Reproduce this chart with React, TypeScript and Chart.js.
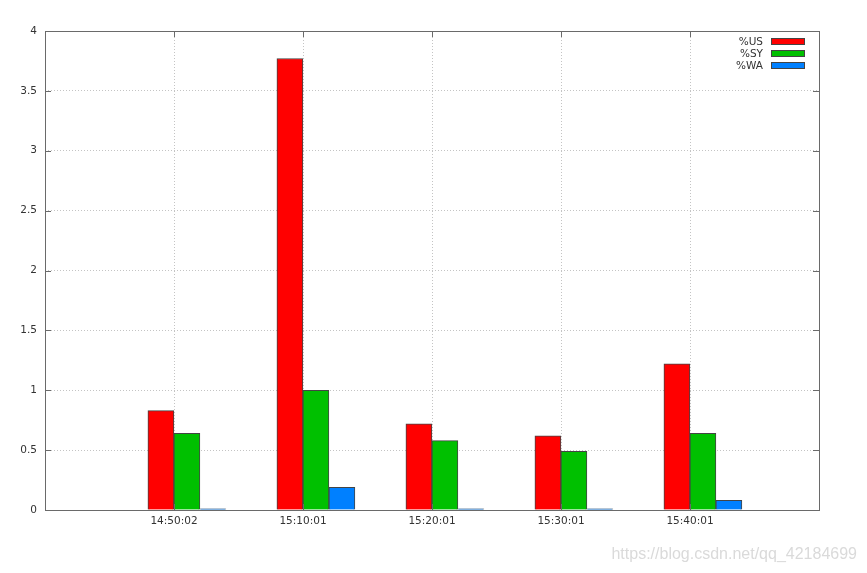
import React, { useEffect, useRef } from 'react';
import { Chart, registerables } from 'chart.js';

Chart.register(...registerables);

const categories = ['14:50:02', '15:10:01', '15:20:01', '15:30:01', '15:40:01'];
const usValues = [0.83, 3.77, 0.72, 0.62, 1.22];
const syValues = [0.64, 1.0, 0.58, 0.49, 0.64];
const waValues = [0.01, 0.19, 0.01, 0.01, 0.08];
const seriesNames = ['%US', '%SY', '%WA'];
const seriesColors = ['#ff0000', '#00c000', '#0080ff'];
const yMin = 0;
const yMax = 4;
const yStep = 0.5;
const watermark = 'https://blog.csdn.net/qq_42184699';

const FONT = '"DejaVu Sans", sans-serif';
const TEXT = '#333333';
const BOX = '#6a6a6a';
const GROUP_OFFSET = 0.1;

const framePlugin = {
  id: 'gnuplotFrame',
  afterDatasetsDraw(chart: any) {
    const { ctx, chartArea } = chart;
    const { left, right, top, bottom } = chartArea;
    const xs = chart.scales.x;
    const ys = chart.scales.y;
    ctx.save();
    ctx.strokeStyle = BOX;
    ctx.lineWidth = 1;
    ctx.setLineDash([]);
    ctx.beginPath();
    for (let v = yMin; v <= yMax + 1e-9; v += yStep) {
      const py = Math.round(ys.getPixelForValue(v)) + 0.5;
      ctx.moveTo(left, py);
      ctx.lineTo(left + 6, py);
      ctx.moveTo(right, py);
      ctx.lineTo(right - 6, py);
    }
    for (let i = 0; i < categories.length; i++) {
      const px = Math.round(xs.getPixelForValue(i)) + 0.5;
      ctx.moveTo(px, top);
      ctx.lineTo(px, top + 6);
      ctx.moveTo(px, bottom);
      ctx.lineTo(px, bottom - 6);
    }
    ctx.stroke();
    ctx.strokeRect(Math.round(left) + 0.5, Math.round(top) + 0.5, Math.round(right - left), Math.round(bottom - top));
    ctx.restore();
  },
  afterDraw(chart: any) {
    const { ctx } = chart;
    ctx.save();
    ctx.font = `10.5px ${FONT}`;
    ctx.textAlign = 'right';
    ctx.textBaseline = 'middle';
    const rowY = [42, 54, 66];
    seriesNames.forEach((name, i) => {
      ctx.fillStyle = TEXT;
      ctx.fillText(name, 763, rowY[i]);
      ctx.fillStyle = seriesColors[i];
      ctx.fillRect(771, rowY[i] - 3, 34, 6);
      ctx.strokeStyle = '#444444';
      ctx.lineWidth = 1;
      ctx.strokeRect(771.5, rowY[i] - 3.5, 33, 6);
    });
    ctx.font = '16px "Liberation Sans", Arial, sans-serif';
    ctx.fillStyle = '#dadada';
    ctx.textAlign = 'right';
    ctx.textBaseline = 'alphabetic';
    ctx.fillText(watermark, 857, 559);
    ctx.restore();
  },
};

export default function App() {
  const canvasRef = useRef<HTMLCanvasElement | null>(null);

  useEffect(() => {
    document.body.style.margin = '0';
    const canvas = canvasRef.current;
    if (!canvas) return;
    const series = [usValues, syValues, waValues];
    const chart = new Chart(canvas, {
      type: 'bar',
      data: {
        datasets: series.map((vals, si) => ({
          label: seriesNames[si],
          data: vals.map((v, i) => ({ x: i + GROUP_OFFSET, y: v })),
          backgroundColor: seriesColors[si],
          borderColor: '#444444',
          borderWidth: 1,
          barThickness: 26,
        })),
      },
      options: {
        animation: false,
        responsive: true,
        maintainAspectRatio: false,
        layout: { padding: { top: 31, right: 48, left: 0, bottom: 0 } },
        plugins: {
          legend: { display: false },
          tooltip: { enabled: false },
        },
        scales: {
          x: {
            type: 'linear',
            offset: false,
            min: -1,
            max: categories.length,
            afterFit: (s: any) => {
              s.height = 63;
            },
            ticks: {
              stepSize: 1,
              autoSkip: false,
              maxRotation: 0,
              padding: 5,
              color: TEXT,
              font: { family: FONT, size: 10.5 },
              callback: (v: any) => {
                const n = Number(v);
                return Number.isInteger(n) && n >= 0 && n < categories.length ? categories[n] : '';
              },
            },
            grid: { color: '#c4c4c4', lineWidth: 1, drawTicks: false, offset: false },
            border: { display: false, dash: [1, 2] },
          },
          y: {
            type: 'linear',
            min: yMin,
            max: yMax,
            afterFit: (s: any) => {
              s.width = 45;
            },
            ticks: {
              stepSize: yStep,
              padding: 8,
              color: TEXT,
              font: { family: FONT, size: 10.5 },
              callback: (v: any) => String(Number(v)),
            },
            grid: { color: '#c4c4c4', lineWidth: 1, drawTicks: false },
            border: { display: false, dash: [1, 2] },
          },
        },
      },
      plugins: [framePlugin],
    } as any);
    return () => chart.destroy();
  }, []);

  return (
    <div style={{ position: 'fixed', left: 0, top: 0, width: 867, height: 573, background: '#fff' }}>
      <canvas ref={canvasRef} />
    </div>
  );
}
